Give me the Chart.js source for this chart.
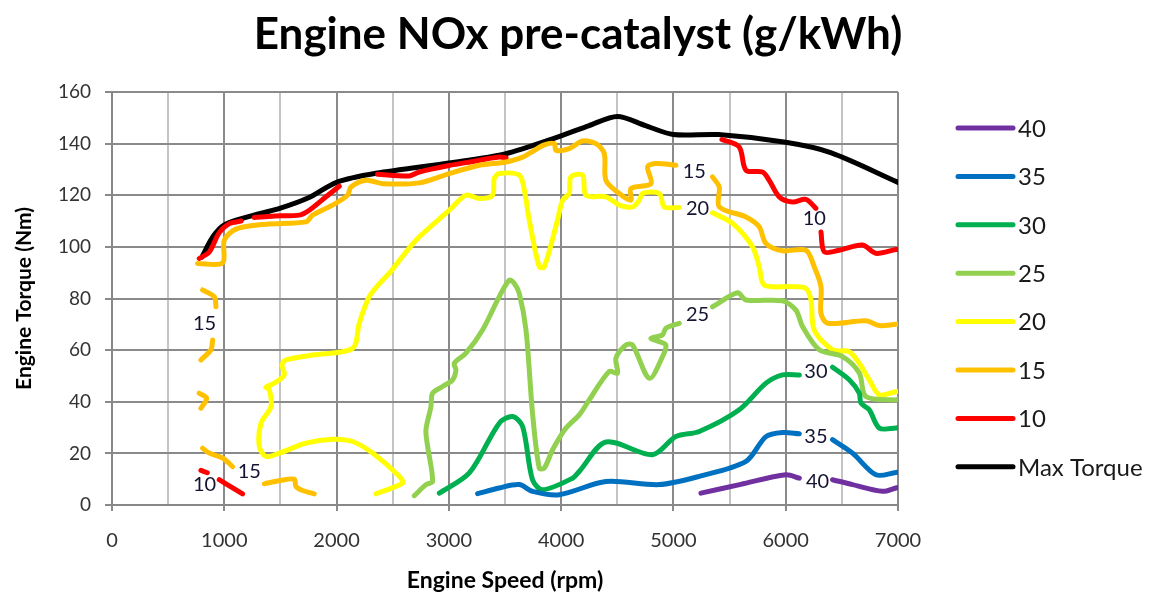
<!DOCTYPE html>
<html lang="en">
<head>
    <meta charset="UTF-8">
    <title>Engine NOx pre-catalyst</title>
    <script src="https://cdn.jsdelivr.net/npm/chart.js"></script>
    <style>
        body { margin: 0; background: #fff; }
        #wrap { width: 1160px; height: 596px; }
    </style>
</head>
<body>
    <div id="wrap"><canvas id="nox-chart" width="1160" height="596"></canvas></div>

    <script>
        // contour levels (g/kWh), legend order top to bottom
        var levels = ['40', '35', '30', '25', '20', '15', '10', 'Max Torque'];
        var colors = ['#7030A0', '#0070C0', '#00B050', '#92D050', '#FFFF00', '#FFC000', '#FF0000', '#000000'];

        // [rpm, Nm] points, null = break between contour pieces
        var nox40 = [[5245,4.6],[5600,8],[6002,11.7],[6121,10.4], null,
            [6417,9.8],[6595,7.9],[6862,5.3],[6981,6.6],[7000,6.8]];

        var nox35 = [[3256,4.4],[3449,6.6],[3627,7.9],[3745,5.3],[3983,4],[4399,9.1],[4874,7.9],[5230,11.1],
            [5646,16.9],[5824,26.5],[5972,28.1],[6121,27.6], null,
            [6417,25.3],[6595,20.1],[6803,11.7],[6981,12.6],[7000,12.7]];

        var nox30 = [[2915,4.6],[3182,12.4],[3449,31.7],[3568,34.3],[3657,30.4],[3745,9.8],[3835,5.9],[4102,10.4],
            [4161,13],[4399,24.4],[4814,19.5],[5022,26.5],[5230,28.5],[5586,36.9],[5824,47.2],[5972,50.4],[6121,50.4], null,
            [6417,53.4],[6566,48.5],[6655,43.3],[6670,39.5],[6744,36.9],[6833,29.8],[6981,29.8],[7000,30]];

        var nox25 = [[2692,3.6],[2796,7.9],[2855,9.1],[2811,22.7],[2796,29.1],[2840,38],[2855,43.3],[2944,45.9],
            [3033,48.5],[3063,52.3],[3048,54.9],[3152,58.8],[3300,67.8],[3449,80.7],[3538,87.1],[3580,86],[3627,82],
            [3687,67.8],[3745,35.6],[3805,14.3],[3850,14.3],[3924,21.4],[4043,29.8],[4161,34.9],[4250,40.7],[4428,51.7],
            [4502,51.1],[4488,56.9],[4577,62],[4636,62],[4785,49.1],[4903,57.5],[4933,62],[4874,63.3],[4800,64.6],
            [4903,65.9],[4933,68.5],[5052,70.4], null,
            [5348,76.8],[5571,82.2],[5646,79.4],[5972,79.1],[6091,75.5],[6150,69.1],[6299,60.1],[6506,57.5],[6655,51.1],
            [6714,42],[6981,40.7],[7000,41]];

        var nox20 = [[2351,4.3],[2588,8.5],[2558,11.1],[2321,20.1],[2143,24.6],[1964,25.5],[1727,24],[1490,20.1],
            [1371,18.8],[1312,22.7],[1327,31.7],[1416,38.1],[1401,44.6],[1371,45.6],[1445,47.2],[1534,50.4],[1514,54.3],
            [1549,56.2],[1786,58.1],[2143,60.7],[2202,70.4],[2291,80.7],[2410,87.1],[2469,89.7],[2707,102.6],[3004,114.2],
            [3152,120],[3272,118.7],[3389,120],[3404,126.5],[3449,128.4],[3627,127.8],[3672,122],[3716,110.4],[3805,92.3],
            [3850,92.3],[3968,110.4],[4013,118.1],[4072,120.7],[4087,127.1],[4191,127.8],[4221,120],[4399,119.4],
            [4518,116.2],[4636,115.5],[4696,118.1],[4725,120.7],[4874,120.7],[4918,115.5],[5052,115.3], null,
            [5348,113.2],[5527,109.1],[5705,100],[5764,92.3],[5809,85.2],[6061,84.6],[6180,83.9],[6225,79.4],[6254,67.8],
            [6417,60.1],[6566,59.4],[6655,54.9],[6744,48.5],[6833,42.7],[6981,43.9],[7000,44]];

        var nox15 = [[762,93.6],[985,93.8],[1000,102.6],[1104,106.9],[1371,108.8],[1727,109.7],[1786,112.3],[1964,116.2],
            [2098,120],[2128,123.2],[2262,125.8],[2410,124.5],[2736,124.8],[3004,128.4],[3272,131.6],[3509,132.9],
            [3657,134.8],[3716,136.2],[3850,139.5],[3939,140],[3954,137.4],[4072,138.1],[4191,141],[4310,140],[4384,136.2],
            [4399,125.8],[4518,120.7],[4622,118.1],[4622,122.6],[4800,124.5],[4770,131],[4844,132.3],[5022,131.6], null,
            [5348,127.1],[5408,123.2],[5408,115.5],[5646,111.6],[5764,107.8],[5824,101.3],[5972,98.5],[6180,98.7],
            [6254,92.3],[6314,84.6],[6314,74.3],[6373,70.4],[6714,71.4],[6833,69.5],[6981,70],[7000,70], null,
            [807,83.3],[911,80.7],[926,76.8], null,
            [896,63.9],[881,60.1],[792,56.2], null,
            [777,43.3],[843,41.4],[792,37.5], null,
            [807,22],[866,20.1],[985,18.2],[1074,14.9], null,
            [1356,8.2],[1490,9.4],[1623,10],[1638,7.2],[1697,5.6],[1801,4.3]];

        var nox10 = [[777,95.5],[866,98],[955,105.5],[1045,109],[1150,110], null,
            [1267,111.4],[1450,112],[1668,112.3],[1757,114.2],[1906,119.4],[2024,123.5], null,
            [2365,128.1],[2647,127.5],[2736,129],[3000,131.5],[3200,133],[3449,134.8],[3510,134.5], null,
            [792,13.4],[849,12.5], null,
            [955,9.8],[1060,7],[1163,4.3], null,
            [5432,141.6],[5586,138.7],[5646,129.7],[5794,129],[5853,125.8],[5942,119.4],[6061,117.4],[6180,118.4],
            [6269,114.9], null,
            [6314,105.8],[6343,98.1],[6477,98.7],[6684,100.7],[6803,97.5],[6981,99],[7000,99]];

        var maxTorque = [[800,96],[900,104],[1000,108.5],[1200,111.5],[1500,115],[1750,119],[2000,125],[2350,128.5],
            [3000,132.5],[3500,136],[4000,143],[4250,147],[4500,150.5],[4750,147],[5000,143.5],[5400,143.5],[6000,140.5],
            [6400,136.5],[7000,125]];

        // inline contour labels [text, rpm, Nm]
        var contourLabels = [['15',824,70.4],['15',1223,12.9],['10',824,7.8],['15',5186,129],['20',5215,114.9],
            ['10',6254,111],['25',5215,73.6],['30',6269,51.7],['35',6269,26.5],['40',6284,9.1]];

        var seriesData = [nox40, nox35, nox30, nox25, nox20, nox15, nox10, maxTorque];

        function toXY(list) {
            return list.map(function(p) {
                return p ? {x: p[0], y: p[1]} : {x: null, y: null};
            });
        }

        var datasets = levels.map(function(name, i) {
            return {
                label: name,
                data: toXY(seriesData[i]),
                showLine: true,
                borderColor: colors[i],
                backgroundColor: colors[i],
                borderWidth: 5,
                borderCapStyle: 'round',
                borderJoinStyle: 'round',
                tension: 0.3,
                pointRadius: 0,
                pointHoverRadius: 0,
                spanGaps: false
            };
        });

        var FONT = 'Lato, "Liberation Sans", sans-serif';

        var contourLabelPlugin = {
            id: 'contourLabels',
            afterDatasetsDraw: function(chart) {
                var ctx = chart.ctx;
                var xs = chart.scales.x, ys = chart.scales.y;
                ctx.save();
                ctx.font = '20px ' + FONT;
                ctx.fillStyle = '#141432';
                ctx.textAlign = 'center';
                ctx.textBaseline = 'middle';
                contourLabels.forEach(function(l) {
                    ctx.fillText(l[0], xs.getPixelForValue(l[1]), ys.getPixelForValue(l[2]));
                });
                ctx.restore();
            }
        };

        // title and legend drawn by hand so they sit where Excel put them
        var sideLegendPlugin = {
            id: 'sideLegend',
            afterDraw: function(chart) {
                var ctx = chart.ctx;
                ctx.save();
                ctx.font = 'bold 44px ' + FONT;
                ctx.fillStyle = '#000';
                ctx.textAlign = 'center';
                ctx.textBaseline = 'middle';
                ctx.fillText('Engine NOx pre-catalyst (g/kWh)', chart.width / 2 - 2, 35);

                var x0 = chart.chartArea.right + 60;
                ctx.textAlign = 'left';
                ctx.font = '24px ' + FONT;
                ctx.lineCap = 'round';
                ctx.lineWidth = 5;
                levels.forEach(function(name, i) {
                    var y = 128 + i * 48.4;
                    ctx.strokeStyle = colors[i];
                    ctx.beginPath();
                    ctx.moveTo(x0, y);
                    ctx.lineTo(x0 + 55, y);
                    ctx.stroke();
                    ctx.fillStyle = '#1a1a1a';
                    ctx.fillText(name, x0 + 60, y + 1);
                });
                ctx.restore();
            }
        };

        var ctx = document.getElementById('nox-chart').getContext('2d');
        var noxChart = new Chart(ctx, {
            type: 'scatter',
            data: { datasets: datasets },
            plugins: [contourLabelPlugin, sideLegendPlugin],
            options: {
                responsive: false,
                animation: false,
                events: [],
                layout: { padding: { left: 0, right: 262, top: 92, bottom: 0 } },
                plugins: {
                    legend: { display: false },
                    tooltip: { enabled: false },
                    title: { display: false }
                },
                scales: {
                    x: {
                        type: 'linear',
                        min: 0,
                        max: 7000,
                        afterFit: function(scale) { scale.height = 91; },
                        border: { color: '#888', width: 2 },
                        grid: {
                            lineWidth: 2,
                            tickLength: 6,
                            color: function(c) { return c.tick && c.tick.value % 1000 === 0 ? '#8a8a8a' : '#c4c4c4'; },
                            tickColor: function(c) { return c.tick && c.tick.value % 1000 === 0 ? '#8a8a8a' : 'rgba(0,0,0,0)'; }
                        },
                        ticks: {
                            stepSize: 500,
                            autoSkip: false,
                            maxRotation: 0,
                            padding: 18,
                            color: '#333',
                            font: { family: FONT, size: 20 },
                            callback: function(v) { return v % 1000 === 0 ? v : ''; }
                        },
                        title: {
                            display: true,
                            text: 'Engine Speed (rpm)',
                            color: '#000',
                            font: { family: FONT, size: 23, weight: 'bold' },
                            padding: { top: 0, bottom: 2 }
                        }
                    },
                    y: {
                        min: 0,
                        max: 160,
                        afterFit: function(scale) { scale.width = 112; },
                        border: { color: '#888', width: 2 },
                        grid: { lineWidth: 2, tickLength: 7, color: '#8a8a8a' },
                        ticks: {
                            stepSize: 20,
                            padding: 14,
                            color: '#333',
                            font: { family: FONT, size: 19 }
                        },
                        title: {
                            display: true,
                            text: 'Engine Torque (Nm)',
                            color: '#000',
                            font: { family: FONT, size: 21, weight: 'bold' },
                            padding: { top: 12, bottom: 0 }
                        }
                    }
                }
            }
        });
    </script>
</body>
</html>
